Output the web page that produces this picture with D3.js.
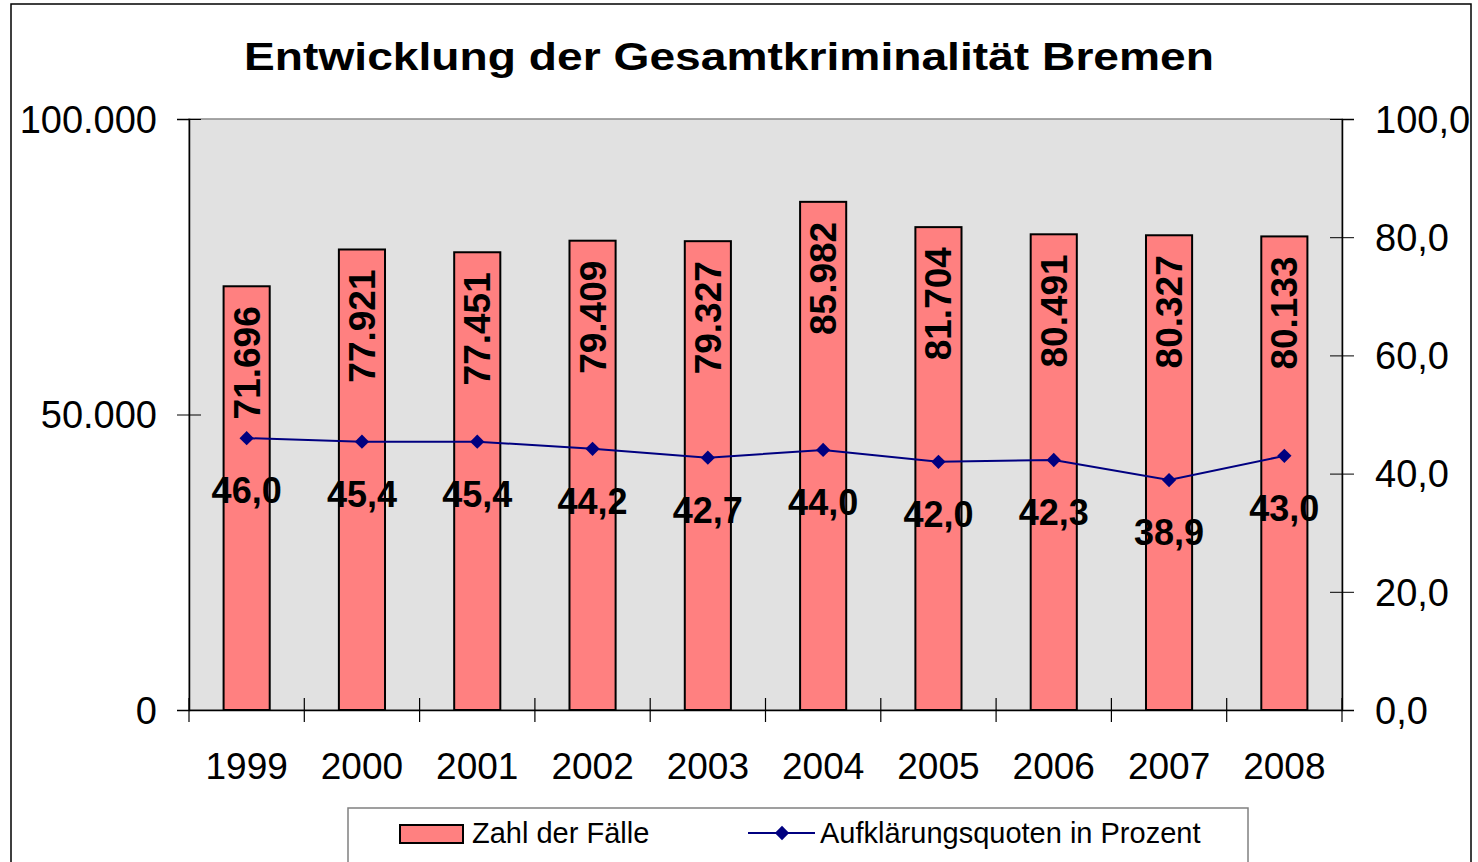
<!DOCTYPE html>
<html>
<head>
<meta charset="utf-8">
<script src="https://cdn.jsdelivr.net/npm/d3@7"></script>
<style>
  body { margin: 0; background: #fff; }
  text { font-family: "Liberation Sans", Arial, sans-serif; }
</style>
</head>
<body>
<div id="chart"></div>
<script>
var years = ["1999", "2000", "2001", "2002", "2003", "2004", "2005", "2006", "2007", "2008"];
var faelle = [71696, 77921, 77451, 79409, 79327, 85982, 81704, 80491, 80327, 80133];
var quoten = [46.0, 45.4, 45.4, 44.2, 42.7, 44.0, 42.0, 42.3, 38.9, 43.0];
var leftTicks = [0, 50000, 100000];
var rightTicks = [0, 20, 40, 60, 80, 100];

var w = 1478,
    h = 862,
    m = [119, 136, 152, 189]; // top right bottom left

var fmtDe = d3.formatLocale({decimal: ",", thousands: ".", grouping: [3], currency: ["", "€"]});
var fmtCount = fmtDe.format(",.0f"),
    fmtPct = fmtDe.format(".1f");

var svg = d3.select("#chart").append("svg")
    .attr("width", w)
    .attr("height", h);

// outer frame
svg.append("rect")
    .attr("x", 11).attr("y", 4)
    .attr("width", 1460).attr("height", 880)
    .attr("fill", "#fff").attr("stroke", "#000").attr("stroke-width", 1.5);

// title is stretched wide in the original
svg.append("text")
    .attr("x", 729).attr("y", 70)
    .attr("text-anchor", "middle")
    .attr("font-size", 39).attr("font-weight", "bold")
    .attr("textLength", 970).attr("lengthAdjust", "spacingAndGlyphs")
    .text("Entwicklung der Gesamtkriminalität Bremen");

var iw = w - m[1] - m[3],
    ih = h - m[0] - m[2];

var x = d3.scaleBand().domain(years).range([0, iw]).paddingInner(0).paddingOuter(0);
var yL = d3.scaleLinear().domain([0, 100000]).range([ih, 0]);
var yR = d3.scaleLinear().domain([0, 100]).range([ih, 0]);

var g = svg.append("g").attr("transform", "translate(" + m[3] + "," + m[0] + ")");

g.append("rect")
    .attr("width", iw).attr("height", ih)
    .attr("fill", "#e1e1e1").attr("stroke", "#8a8a8a").attr("stroke-width", 1.5);

// bars
var bw = x.bandwidth() * 0.4;
g.selectAll("rect.bar")
    .data(faelle)
  .enter().append("rect")
    .attr("class", "bar")
    .attr("x", function(d, i) { return x(years[i]) + (x.bandwidth() - bw) / 2; })
    .attr("y", function(d) { return yL(d); })
    .attr("width", bw)
    .attr("height", function(d) { return ih - yL(d); })
    .attr("fill", "#ff8080").attr("stroke", "#000").attr("stroke-width", 2);

g.selectAll("text.barlabel")
    .data(faelle)
  .enter().append("text")
    .attr("class", "barlabel")
    .attr("transform", function(d, i) {
      return "translate(" + (x(years[i]) + x.bandwidth() / 2 + 13) + "," + (yL(d) + 20) + ") rotate(-90)";
    })
    .attr("text-anchor", "end")
    .attr("font-size", 37).attr("font-weight", "bold")
    .text(function(d) { return fmtCount(d); });

// axes
var axL = g.append("g").call(d3.axisLeft(yL).tickValues(leftTicks).tickSize(12).tickFormat(fmtCount));
axL.select(".domain").attr("stroke", "#000").attr("stroke-width", 1.5);
axL.selectAll(".tick line").attr("x2", -12).attr("x1", 12).attr("stroke", "#000");
axL.selectAll(".tick text").attr("x", -32).attr("font-size", 38).attr("font-family", "Liberation Sans, Arial, sans-serif").attr("dy", "0.35em").attr("fill", "#000");

var axR = g.append("g").attr("transform", "translate(" + iw + ",0)")
    .call(d3.axisRight(yR).tickValues(rightTicks).tickSize(12).tickFormat(fmtPct));
axR.select(".domain").attr("stroke", "#000").attr("stroke-width", 1.5);
axR.selectAll(".tick line").attr("x1", -12).attr("x2", 12).attr("stroke", "#000");
axR.selectAll(".tick text").attr("x", 33).attr("font-size", 38).attr("font-family", "Liberation Sans, Arial, sans-serif").attr("dy", "0.35em").attr("fill", "#000");

var axB = g.append("g").attr("transform", "translate(0," + ih + ")")
    .call(d3.axisBottom(x).tickSize(0));
axB.select(".domain").attr("stroke", "#000").attr("stroke-width", 1.5);
axB.selectAll(".tick text").attr("y", 69).attr("dy", 0).attr("font-size", 37).attr("font-family", "Liberation Sans, Arial, sans-serif").attr("fill", "#000");
axB.selectAll("line.sep")
    .data(d3.range(years.length + 1))
  .enter().append("line")
    .attr("class", "sep")
    .attr("x1", function(i) { return i * x.step(); })
    .attr("x2", function(i) { return i * x.step(); })
    .attr("y1", -12).attr("y2", 12)
    .attr("stroke", "#000").attr("stroke-width", 1.2);

// line series
var line = d3.line()
    .x(function(d, i) { return x(years[i]) + x.bandwidth() / 2; })
    .y(function(d) { return yR(d); });

g.append("path")
    .datum(quoten)
    .attr("d", line)
    .attr("fill", "none").attr("stroke", "#000080").attr("stroke-width", 2);

var diamond = d3.symbol().type(d3.symbolDiamond2).size(130);
g.selectAll("path.pt")
    .data(quoten)
  .enter().append("path")
    .attr("class", "pt")
    .attr("d", diamond)
    .attr("transform", function(d, i) { return "translate(" + (x(years[i]) + x.bandwidth() / 2) + "," + yR(d) + ")"; })
    .attr("fill", "#000080");

g.selectAll("text.ptlabel")
    .data(quoten)
  .enter().append("text")
    .attr("class", "ptlabel")
    .attr("x", function(d, i) { return x(years[i]) + x.bandwidth() / 2; })
    .attr("y", function(d) { return yR(d) + 65; })
    .attr("text-anchor", "middle")
    .attr("font-size", 36).attr("font-weight", "bold")
    .text(function(d) { return fmtPct(d); });

// legend
var lg = svg.append("g");
lg.append("rect")
    .attr("x", 348).attr("y", 808).attr("width", 900).attr("height", 80)
    .attr("fill", "#fff").attr("stroke", "#808080").attr("stroke-width", 1.5);
lg.append("rect")
    .attr("x", 400).attr("y", 825).attr("width", 63).attr("height", 18)
    .attr("fill", "#ff8080").attr("stroke", "#000").attr("stroke-width", 2);
lg.append("text")
    .attr("x", 472).attr("y", 843).attr("font-size", 29)
    .text("Zahl der Fälle");
lg.append("line")
    .attr("x1", 748).attr("x2", 815).attr("y1", 833).attr("y2", 833)
    .attr("stroke", "#000080").attr("stroke-width", 2);
lg.append("path")
    .attr("d", diamond)
    .attr("transform", "translate(782,833)")
    .attr("fill", "#000080");
lg.append("text")
    .attr("x", 820).attr("y", 843).attr("font-size", 29)
    .text("Aufklärungsquoten in Prozent");
</script>
</body>
</html>
